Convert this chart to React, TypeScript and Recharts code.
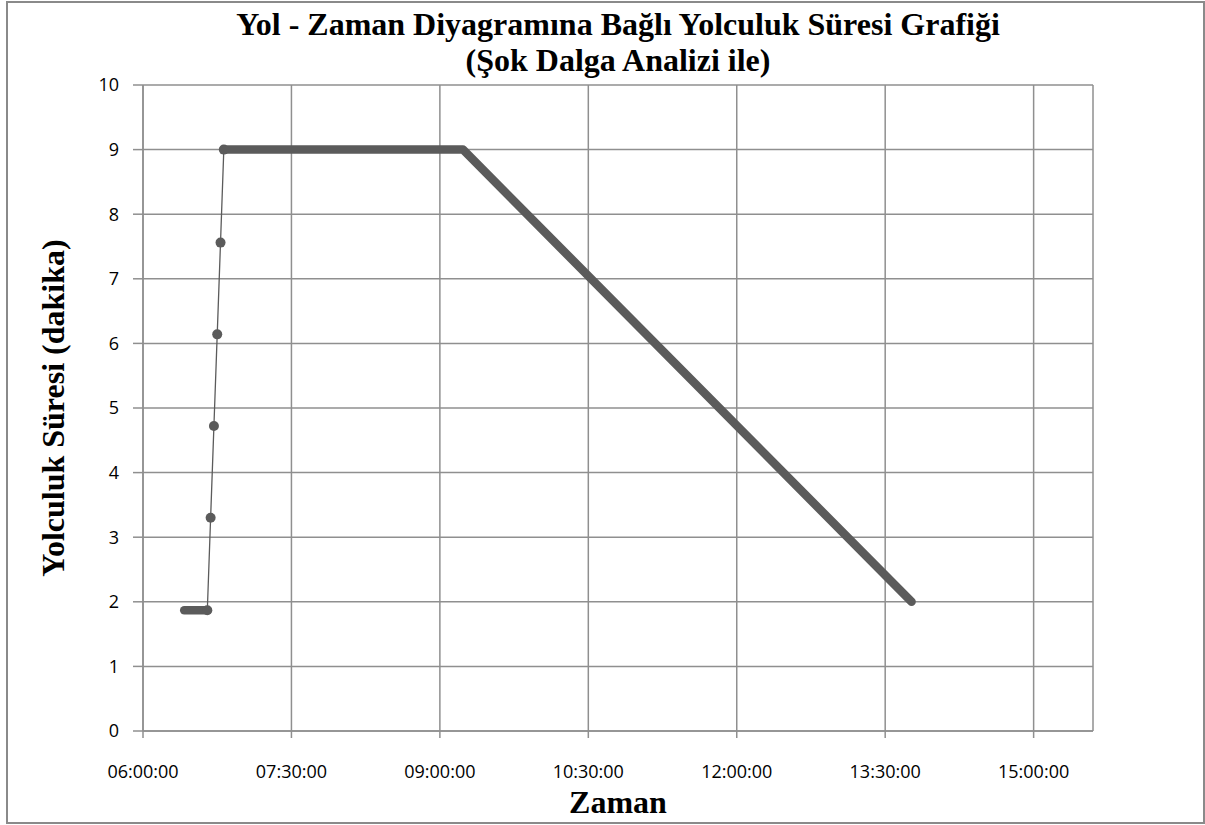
import React from "react";
import { ComposedChart, Line, XAxis, YAxis, CartesianGrid } from "recharts";

// ---- data (times as HH:MM, values in minutes) ----
const lowSegTimes = ["06:25", "06:39"];
const lowSegValues = [1.87, 1.87];

const riseTimes = ["06:41", "06:43", "06:45", "06:47"];
const riseValues = [3.3, 4.72, 6.14, 7.56];

const highSegTimes = ["06:49", "09:14", "13:46"];
const highSegValues = [9.0, 9.0, 2.0];

const xTickLabels = ["06:00:00", "07:30:00", "09:00:00", "10:30:00", "12:00:00", "13:30:00", "15:00:00"];
const xDomainLabels = ["06:00", "15:36"];
const yTicks = [0, 1, 2, 3, 4, 5, 6, 7, 8, 9, 10];

const toMin = (s: string) => {
  const [h, m, sec] = s.split(":").map(Number);
  return h * 60 + m + (sec || 0) / 60;
};
const fmt = (v: number) => {
  const h = Math.floor(v / 60);
  const m = Math.round(v - h * 60);
  return `${String(h).padStart(2, "0")}:${String(m).padStart(2, "0")}:00`;
};

const build = (ts: string[], vs: number[]) => ts.map((t, i) => ({ t: toMin(t), v: vs[i] }));

const lowSeg = build(lowSegTimes, lowSegValues);
const rise = build(riseTimes, riseValues);
const highSeg = build(highSegTimes, highSegValues);
const connector = [lowSeg[lowSeg.length - 1], ...rise, highSeg[0]];
const xTicks = xTickLabels.map(toMin);
const xDomain = xDomainLabels.map(toMin);

const DARK = "#5b5b5b";
const GRID = "#8f8f8f";
const TICK_FONT = { fontFamily: "'Open Sans', 'Noto Sans', sans-serif", fontSize: 18, fill: "#000" };
const SERIF = "'Liberation Serif', 'Times New Roman', serif";

export default function App() {
  return (
    <div style={{ position: "absolute", left: 0, top: 0, width: 1205, height: 825, background: "#fff" }}>
      <div
        style={{
          position: "absolute",
          left: 6,
          top: 1,
          width: 1195,
          height: 819,
          border: "2px solid #8a8a8a",
        }}
      />
      <div
        style={{
          position: "absolute",
          left: 143,
          width: 950,
          top: 6,
          textAlign: "center",
          fontFamily: SERIF,
          fontWeight: "bold",
          fontSize: 32,
          lineHeight: "36px",
          color: "#000",
          whiteSpace: "nowrap",
        }}
      >
        <div>Yol - Zaman Diyagramına Bağlı Yolculuk Süresi Grafiği</div>
        <div>(Şok Dalga Analizi ile)</div>
      </div>
      <div
        style={{
          position: "absolute",
          left: 53 - 250,
          top: 408 - 18,
          width: 500,
          height: 36,
          lineHeight: "36px",
          textAlign: "center",
          transform: "rotate(-90deg)",
          fontFamily: SERIF,
          fontWeight: "bold",
          fontSize: 32,
          color: "#000",
          whiteSpace: "nowrap",
        }}
      >
        Yolculuk Süresi (dakika)
      </div>
      <div
        style={{
          position: "absolute",
          left: 143,
          width: 950,
          top: 785,
          textAlign: "center",
          fontFamily: SERIF,
          fontWeight: "bold",
          fontSize: 32,
          lineHeight: "34px",
          color: "#000",
        }}
      >
        Zaman
      </div>
      <div style={{ position: "absolute", left: 0, top: 0 }}>
        <ComposedChart width={1205} height={825} margin={{ top: 85, right: 112, bottom: 34, left: 83 }}>
          <CartesianGrid stroke={GRID} strokeWidth={1.5} />
          <XAxis
            type="number"
            dataKey="t"
            domain={xDomain}
            ticks={xTicks}
            tickFormatter={fmt}
            allowDataOverflow
            height={60}
            stroke={GRID}
            strokeWidth={1.5}
            tickSize={7}
            tickMargin={27}
            tick={TICK_FONT}
            tickLine={{ stroke: GRID, strokeWidth: 1.5 }}
          />
          <YAxis
            type="number"
            dataKey="v"
            domain={[0, 10]}
            ticks={yTicks}
            width={60}
            stroke={GRID}
            strokeWidth={1.5}
            tickSize={10}
            tickMargin={14}
            tick={TICK_FONT}
            tickLine={{ stroke: GRID, strokeWidth: 1.5 }}
          />
          <Line
            data={connector}
            dataKey="v"
            stroke={DARK}
            strokeWidth={1.3}
            dot={{ r: 5, fill: DARK, stroke: DARK, strokeWidth: 0 }}
            isAnimationActive={false}
            type="linear"
          />
          <Line
            data={lowSeg}
            dataKey="v"
            stroke={DARK}
            strokeWidth={8.5}
            strokeLinecap="round"
            strokeLinejoin="round"
            dot={false}
            isAnimationActive={false}
            type="linear"
          />
          <Line
            data={highSeg}
            dataKey="v"
            stroke={DARK}
            strokeWidth={8.5}
            strokeLinecap="round"
            strokeLinejoin="round"
            dot={false}
            isAnimationActive={false}
            type="linear"
          />
        </ComposedChart>
      </div>
    </div>
  );
}
